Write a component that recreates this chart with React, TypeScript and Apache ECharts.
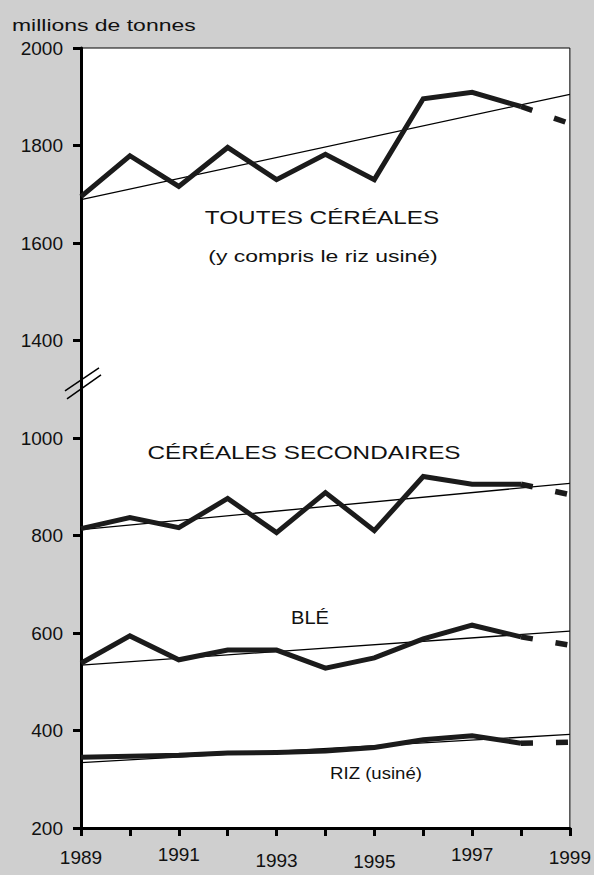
import React, { useEffect, useRef } from "react";
import * as echarts from "echarts";

// ---- data (millions de tonnes) ----
const years = [1989, 1990, 1991, 1992, 1993, 1994, 1995, 1996, 1997, 1998];
const projYears = [1998, 1999];
const trendYears = [1989, 1999];

const allCereals = [1695, 1779, 1716, 1796, 1730, 1782, 1730, 1896, 1909, 1880];
const allCerealsProj = [1880, 1845];
const allCerealsTrend = [1689, 1905];

const coarseGrains = [814, 837, 816, 876, 806, 888, 810, 921, 905, 905];
const coarseGrainsProj = [905, 884];
const coarseGrainsTrend = [812, 907];

const wheat = [538, 594, 545, 565, 565, 528, 549, 588, 616, 592];
const wheatProj = [592, 575];
const wheatTrend = [534, 604];

const rice = [345, 347, 349, 354, 355, 358, 365, 381, 389, 374];
const riceProj = [374, 376];
const riceTrend = [334, 392];

// axis break: values from 1200 upward are drawn 200 lower
const BREAK_FROM = 1100;
const BREAK_GAP = 200;
const disp = (v: number) => (v > BREAK_FROM ? v - BREAK_GAP : v);
const labelOf = (d: number) => (d >= 1200 ? d + BREAK_GAP : d);

const FONT = '"Liberation Sans", Arial, sans-serif';
const INK = "#1b1b1b";

const pairs = (xs: number[], vs: number[]) => xs.map((x, i) => [x, disp(vs[i])]);

function mainSeries(name: string, vals: number[], proj: number[], trend: number[]) {
  return [
    {
      name: name,
      type: "line",
      data: pairs(years, vals),
      symbol: "none",
      lineStyle: { color: INK, width: 5, join: "miter" },
      z: 3,
    },
    {
      name: name + " (projection)",
      type: "line",
      data: pairs(projYears, proj),
      symbol: "none",
      lineStyle: { color: INK, width: 5.5, type: [12, 23], cap: "butt" },
      z: 3,
    },
    {
      name: name + " (tendance)",
      type: "line",
      data: pairs(trendYears, trend),
      symbol: "none",
      lineStyle: { color: "#000", width: 1.3 },
      z: 2,
    },
  ];
}

const labelTexts = [
  { text: "millions de tonnes", x: 12, y: 25, w: 194, align: "left", size: 17 },
  { text: "TOUTES CÉRÉALES", x: 322, y: 218, w: 238, align: "center", size: 18 },
  { text: "(y compris le riz usiné)", x: 323, y: 256, w: 240, align: "center", size: 17 },
  { text: "CÉRÉALES SECONDAIRES", x: 304, y: 453, w: 319, align: "center", size: 18 },
  { text: "BLÉ", x: 310, y: 618, w: 38, align: "center", size: 18 },
  { text: "RIZ (usiné)", x: 376, y: 773, w: 92, align: "center", size: 17 },
];

const xLabelShift: Record<number, number> = { 1989: 3, 1991: 0, 1993: 6, 1995: 7, 1997: 0, 1999: 3 };

export default function App() {
  const ref = useRef<HTMLDivElement>(null);

  useEffect(() => {
    if (!ref.current) return;
    const chart = echarts.init(ref.current, undefined, { renderer: "svg" });

    const rich: Record<string, any> = {};
    Object.keys(xLabelShift).forEach((k) => {
      rich["y" + k] = {
        fontSize: 19,
        fontFamily: FONT,
        color: "#111",
        padding: [xLabelShift[Number(k)], 0, 0, 0],
      };
    });

    chart.setOption({
      animation: false,
      backgroundColor: "#cfcfcf",
      textStyle: { fontFamily: FONT, color: "#111" },
      grid: {
        left: 81,
        right: 22,
        top: 48,
        bottom: 47,
        show: true,
        backgroundColor: "#ffffff",
        borderColor: "#000",
        borderWidth: 1,
      },
      xAxis: {
        type: "value",
        min: 1989,
        max: 1999,
        interval: 1,
        axisLine: { show: true, lineStyle: { color: "#000", width: 3 } },
        axisTick: { show: true, length: 8, lineStyle: { color: "#000", width: 3 } },
        splitLine: { show: false },
        axisLabel: {
          margin: 17,
          fontSize: 19,
          color: "#111",
          fontFamily: FONT,
          showMinLabel: true,
          showMaxLabel: true,
          formatter: (v: number) => (v % 2 === 1 ? `{y${v}|${v}}` : ""),
          rich: rich,
        },
      },
      yAxis: {
        type: "value",
        min: 200,
        max: 1800,
        interval: 200,
        axisLine: { show: true, lineStyle: { color: "#000", width: 3 } },
        axisTick: { show: true, length: 8, lineStyle: { color: "#000", width: 3 } },
        splitLine: { show: false },
        axisLabel: {
          margin: 18,
          fontSize: 19,
          color: "#111",
          fontFamily: FONT,
          formatter: (v: number) => String(labelOf(v)),
        },
      },
      series: [
        ...mainSeries("Toutes céréales", allCereals, allCerealsProj, allCerealsTrend),
        ...mainSeries("Céréales secondaires", coarseGrains, coarseGrainsProj, coarseGrainsTrend),
        ...mainSeries("Blé", wheat, wheatProj, wheatTrend),
        ...mainSeries("Riz (usiné)", rice, riceProj, riceTrend),
      ],
    });

    // measure texts to reproduce the wide letter spacing of the original
    const ctx = document.createElement("canvas").getContext("2d");
    const textEls = labelTexts.map((t) => {
      let s = 1;
      if (ctx) {
        ctx.font = `${t.size}px "Liberation Sans"`;
        const w = ctx.measureText(t.text).width;
        if (w > 0) s = Math.max(1, Math.min(t.w / w, 1.35));
      }
      return {
        type: "text",
        x: t.x,
        y: t.y,
        scaleX: s,
        z: 10,
        style: {
          text: t.text,
          x: 0,
          y: 0,
          align: t.align,
          verticalAlign: "middle",
          font: `${t.size}px ${FONT}`,
          fill: "#111",
        },
      };
    });

    const p = chart.convertToPixel({ gridIndex: 0 }, [1989, 1111]) as number[];
    const cx = p[0];
    const cy = p[1];
    const breakEls = [
      { type: "line", shape: { x1: cx - 16, y1: cy + 7, x2: cx + 18, y2: cy - 16 }, style: { stroke: "#000", lineWidth: 1.5 }, z: 10 },
      { type: "line", shape: { x1: cx - 14, y1: cy + 15, x2: cx + 20, y2: cy - 9 }, style: { stroke: "#000", lineWidth: 1.5 }, z: 10 },
    ];

    chart.setOption({ graphic: [...textEls, ...breakEls] });

    return () => chart.dispose();
  }, []);

  return (
    <div
      ref={ref}
      style={{ position: "fixed", left: 0, top: 0, width: 594, height: 875 }}
    />
  );
}
